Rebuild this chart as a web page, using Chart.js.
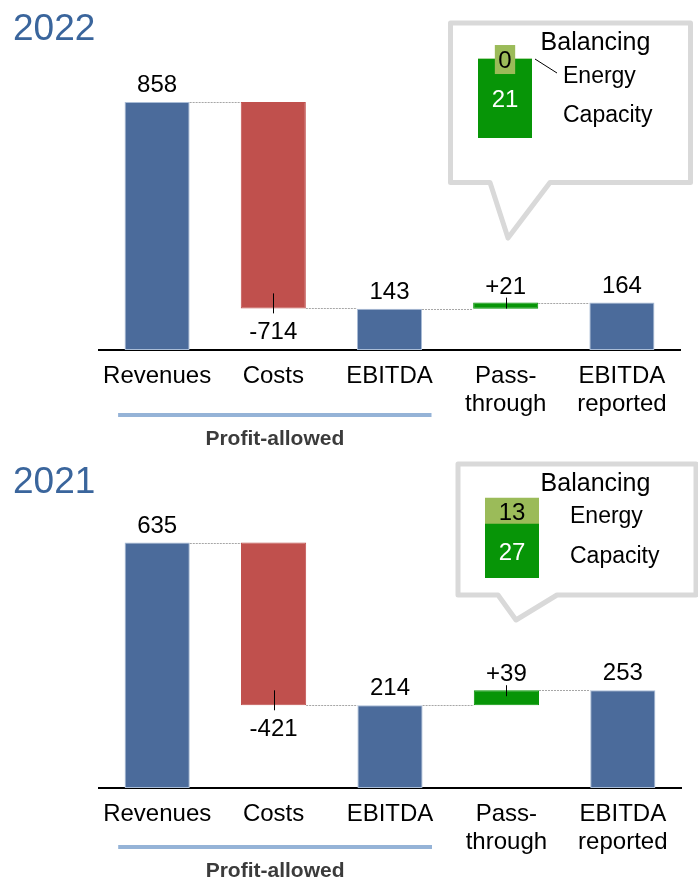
<!DOCTYPE html>
<html>
<head>
<meta charset="utf-8">
<script src="https://cdn.jsdelivr.net/npm/chart.js@4/dist/chart.umd.min.js"></script>
<style>
  body { margin: 0; background: #fff; }
  #wrap { position: relative; width: 698px; height: 887px; overflow: hidden; }
  canvas { position: absolute; }
</style>
</head>
<body>
<div id="wrap">
  <canvas id="c2022" width="698" height="445" style="left:0;top:0"></canvas>
  <canvas id="c2021" width="698" height="442" style="left:0;top:445px"></canvas>
  <canvas id="b2022" width="232" height="154" style="left:455px;top:26px"></canvas>
  <canvas id="b2021" width="230" height="124" style="left:462px;top:468px"></canvas>
</div>
<script>
// waterfall categories and kinds
var categories = [['Revenues'], ['Costs'], ['EBITDA'], ['Pass-', 'through'], ['EBITDA', 'reported']];
var kinds = ['total', 'delta', 'total', 'delta', 'total'];
var values2022 = [858, -714, 143, 21, 164];
var values2021 = [635, -421, 214, 39, 253];

// balancing split of the pass-through
var balancingParts = ['Energy', 'Capacity'];
var balancing2022 = [0, 21];
var balancing2021 = [13, 27];

var FONT = "'Liberation Sans', Arial, sans-serif";
var BLUE = '#4b6b9b', RED = '#c0504d', GREEN = '#079507', OLIVE = '#9bbb59';

// [start, end] pairs for floating bars
function floating(values) {
    var run = 0;
    return values.map(function(v, i) {
        if (kinds[i] === 'total') { run = v; return [0, v]; }
        var start = run;
        run += v;
        return [start, run];
    });
}

function barColours(values) {
    return values.map(function(v, i) {
        if (kinds[i] === 'total') return BLUE;
        return v < 0 ? RED : GREEN;
    });
}

// digits: alphabetic baseline from a visual centre
function centreText(ctx, txt, x, cy, size) {
    ctx.fillText(txt, x, cy + size * 0.358);
}

var waterfallPlugin = {
    id: 'waterfall',
    afterDraw: function(chart, args, opts) {
        var ctx = chart.ctx, ys = chart.scales.y, xs = chart.scales.x;
        var meta = chart.getDatasetMeta(0);
        var ranges = chart.data.datasets[0].data;
        var vals = opts.values;
        var base = chart.chartArea.bottom;
        ctx.save();

        // title
        ctx.fillStyle = '#3a659c';
        ctx.font = '37px ' + FONT;
        ctx.textAlign = 'left';
        ctx.textBaseline = 'alphabetic';
        ctx.fillText(opts.title, 13, opts.titleY);

        // callout box
        var b = opts.box;
        ctx.beginPath();
        ctx.moveTo(b.l, b.t);
        ctx.lineTo(b.r, b.t);
        ctx.lineTo(b.r, b.b);
        ctx.lineTo(b.pr, b.b);
        ctx.lineTo(b.tx, b.ty);
        ctx.lineTo(b.pl, b.b);
        ctx.lineTo(b.l, b.b);
        ctx.closePath();
        ctx.fillStyle = '#fff';
        ctx.fill();
        ctx.strokeStyle = '#d9d9d9';
        ctx.lineWidth = 5;
        ctx.lineJoin = 'round';
        ctx.stroke();

        // dotted connectors
        ctx.strokeStyle = '#a6a6a6';
        ctx.lineWidth = 1;
        ctx.setLineDash([2, 1]);
        for (var i = 0; i < meta.data.length - 1; i++) {
            var py = Math.round(ys.getPixelForValue(ranges[i][1])) + 0.5;
            var a = meta.data[i], n = meta.data[i + 1];
            ctx.beginPath();
            ctx.moveTo(a.x + a.width / 2, py);
            ctx.lineTo(n.x - n.width / 2, py);
            ctx.stroke();
        }
        ctx.setLineDash([]);

        // value labels
        ctx.fillStyle = '#000';
        ctx.strokeStyle = '#000';
        ctx.textAlign = 'center';
        ctx.font = '24px ' + FONT;
        meta.data.forEach(function(bar, i) {
            var v = vals[i];
            var top = ys.getPixelForValue(Math.max(ranges[i][0], ranges[i][1]));
            var bot = ys.getPixelForValue(Math.min(ranges[i][0], ranges[i][1]));
            var cx = Math.round(bar.x) + 0.5;
            if (kinds[i] === 'total') {
                centreText(ctx, String(v), bar.x, top - 18.5, 24);
            } else if (v < 0) {
                ctx.beginPath(); ctx.moveTo(cx, bot - 15); ctx.lineTo(cx, bot + 5); ctx.stroke();
                centreText(ctx, String(v), bar.x, bot + 22, 24);
            } else {
                ctx.beginPath(); ctx.moveTo(cx, top - 5); ctx.lineTo(cx, top + 6); ctx.stroke();
                centreText(ctx, '+' + v, bar.x, top - 17.5, 24);
            }
        });

        // category labels
        chart.data.labels.forEach(function(lines, i) {
            var x = xs.getPixelForValue(i);
            lines.forEach(function(t, k) {
                ctx.fillText(t, x, base + 33 + k * 28);
            });
        });

        // profit-allowed bracket
        var x0 = xs.getPixelForValue(0) - 39, x1 = xs.getPixelForValue(2) + 42;
        ctx.fillStyle = '#95b3d7';
        ctx.fillRect(x0, base + opts.lineOffset - 2, x1 - x0, 4);
        ctx.fillStyle = '#3b3b3b';
        ctx.font = 'bold 21px ' + FONT;
        ctx.fillText('Profit-allowed', (x0 + x1) / 2, base + opts.textOffset);
        ctx.restore();
    }
};

function waterfallChart(id, values, cfg) {
    var colours = barColours(values);
    return new Chart(document.getElementById(id), {
        type: 'bar',
        data: {
            labels: categories,
            datasets: [{
                data: floating(values),
                backgroundColor: colours,
                borderColor: colours.map(function(c) { return c === BLUE ? '#a9bcd6' : c; }),
                borderWidth: 1,
                borderSkipped: false,
                barPercentage: 0.56,
                categoryPercentage: 1
            }]
        },
        options: {
            responsive: false,
            animation: false,
            layout: { padding: cfg.padding },
            plugins: {
                legend: { display: false },
                tooltip: { enabled: false },
                waterfall: cfg
            },
            scales: {
                x: {
                    ticks: { display: false },
                    grid: { display: false },
                    border: { color: '#000', width: 2 },
                    afterFit: function(s) { s.height = 0; }
                },
                y: { display: false, min: 0, max: cfg.yMax }
            }
        },
        plugins: [waterfallPlugin]
    });
}

waterfallChart('c2022', values2022, {
    values: values2022, title: '2022', titleY: 40, yMax: 1000,
    padding: { left: 99, right: 18, top: 61, bottom: 95 },
    lineOffset: 65, textOffset: 95,
    box: { l: 450.5, t: 23, r: 690.5, b: 182.5, pl: 490, pr: 550, tx: 508, ty: 238 }
});

waterfallChart('c2021', values2021, {
    values: values2021, title: '2021', titleY: 48, yMax: 700,
    padding: { left: 99, right: 17, top: 72.5, bottom: 99 },
    lineOffset: 59, textOffset: 89,
    box: { l: 458, t: 19, r: 696, b: 150, pl: 498, pr: 557, tx: 516, ty: 175 }
});

// stacked balancing bar inside the callout
var balancingPlugin = {
    id: 'balancing',
    afterDatasetsDraw: function(chart, args, opts) {
        var ctx = chart.ctx;
        var cap = chart.getDatasetMeta(0).data[0];
        var en = chart.getDatasetMeta(1).data[0];
        var capVal = chart.data.datasets[0].data[0];
        var enVal = chart.data.datasets[1].data[0];
        ctx.save();
        ctx.textAlign = 'center';
        ctx.font = '24px ' + FONT;

        var enMid = (en.y + en.base) / 2;
        var tw = ctx.measureText(String(enVal)).width;
        if (Math.abs(en.base - en.y) < 20) {
            ctx.fillStyle = OLIVE;
            ctx.fillRect(en.x - (tw + 7) / 2, enMid - 14, tw + 7, 29);
        }
        ctx.fillStyle = '#000';
        centreText(ctx, String(enVal), en.x, enMid, 24);
        ctx.fillStyle = '#fff';
        centreText(ctx, String(capVal), cap.x, (cap.y + cap.base) / 2, 24);

        if (opts.leader) {
            ctx.strokeStyle = '#000';
            ctx.lineWidth = 1;
            ctx.beginPath();
            ctx.moveTo(en.x + 30, enMid);
            ctx.lineTo(opts.textX - 6, opts.energyY - 10);
            ctx.stroke();
        }

        ctx.fillStyle = '#000';
        ctx.font = '25px ' + FONT;
        ctx.fillText('Balancing', opts.titleX, opts.titleY);
        ctx.textAlign = 'left';
        ctx.font = '23px ' + FONT;
        ctx.fillText(balancingParts[0], opts.textX, opts.energyY);
        ctx.fillText(balancingParts[1], opts.textX, opts.capacityY);
        ctx.restore();
    }
};

function balancingChart(id, parts, cfg) {
    return new Chart(document.getElementById(id), {
        type: 'bar',
        data: {
            labels: ['Balancing'],
            datasets: [
                { label: balancingParts[1], data: [parts[1]], backgroundColor: GREEN },
                { label: balancingParts[0], data: [parts[0]], backgroundColor: OLIVE }
            ]
        },
        options: {
            responsive: false,
            animation: false,
            barPercentage: 1,
            categoryPercentage: 1,
            layout: { padding: cfg.padding },
            plugins: {
                legend: { display: false },
                tooltip: { enabled: false },
                balancing: cfg
            },
            scales: {
                x: { display: false, stacked: true },
                y: { display: false, stacked: true, min: 0, max: cfg.yMax }
            }
        },
        plugins: [balancingPlugin]
    });
}

balancingChart('b2022', balancing2022, {
    padding: { left: 23, right: 155, top: 6.7, bottom: 42 }, yMax: 28,
    titleX: 140.5, titleY: 24, textX: 108, energyY: 57, capacityY: 96, leader: true
});

balancingChart('b2021', balancing2021, {
    padding: { left: 23, right: 153, top: 10, bottom: 14 }, yMax: 50,
    titleX: 133.5, titleY: 23, textX: 108, energyY: 55, capacityY: 95, leader: false
});
</script>
</body>
</html>
